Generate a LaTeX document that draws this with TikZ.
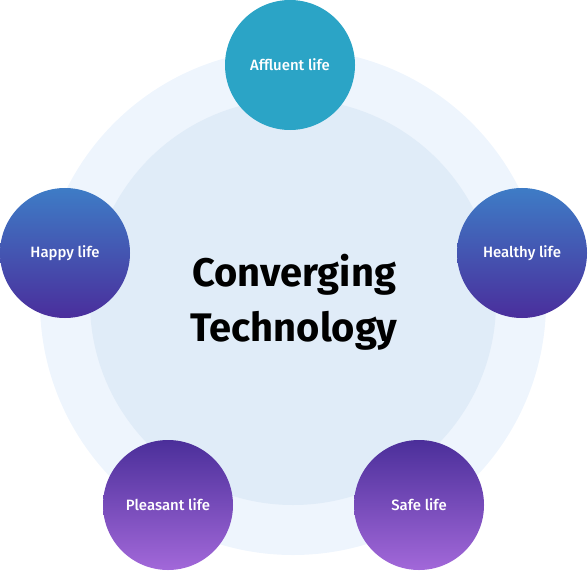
\documentclass[tikz,border=0pt]{standalone}
\usepackage{fontspec}
\setmainfont{Fira Sans}
\newfontfamily\labelfont{Fira Sans Medium}
\definecolor{ringout}{HTML}{EEF5FD}
\definecolor{ringin}{HTML}{E0ECF8}
\definecolor{tealc}{HTML}{2BA4C6}
\definecolor{blueT}{HTML}{3E7CC6}
\definecolor{blueB}{HTML}{4A2E9C}
\definecolor{violetT}{HTML}{4B2F9A}
\definecolor{violetB}{HTML}{A268D9}
\begin{document}
\begin{tikzpicture}[x=1bp, y=-1bp,
    ring/.style={circle, draw=none, inner sep=0pt},
    life/.style={circle, draw=none, minimum size=130bp, inner sep=0pt,
                 text=white, font=\labelfont\fontsize{15}{18}\selectfont},
    lifeteal/.style={life, fill=tealc},
    lifeblue/.style={life, top color=blueT, bottom color=blueB},
    lifeviolet/.style={life, top color=violetT, bottom color=violetB}
]
\useasboundingbox (0,0) rectangle (588,571);

% --- RINGS ---
\node[ring, fill=ringout, minimum size=506bp] (outer) at (293,302) {};
\node[ring, fill=ringin, minimum size=406bp] (inner) at (293,302) {};

% --- CENTRE ---
\node[font=\fontsize{40}{55}\selectfont\bfseries, align=center] (title) at (294,302)
    {Converging\\Technology};

% --- LIVES ---
\node[lifeteal] (affluent) at (290,65) {Affluent life};
\node[lifeblue] (happy) at (65,253) {Happy life};
\node[lifeblue] (healthy) at (522,253) {Healthy life};
\node[lifeviolet] (pleasant) at (168,505) {Pleasant life};
\node[lifeviolet] (safe) at (419,505) {Safe life};

\end{tikzpicture}
\end{document}
